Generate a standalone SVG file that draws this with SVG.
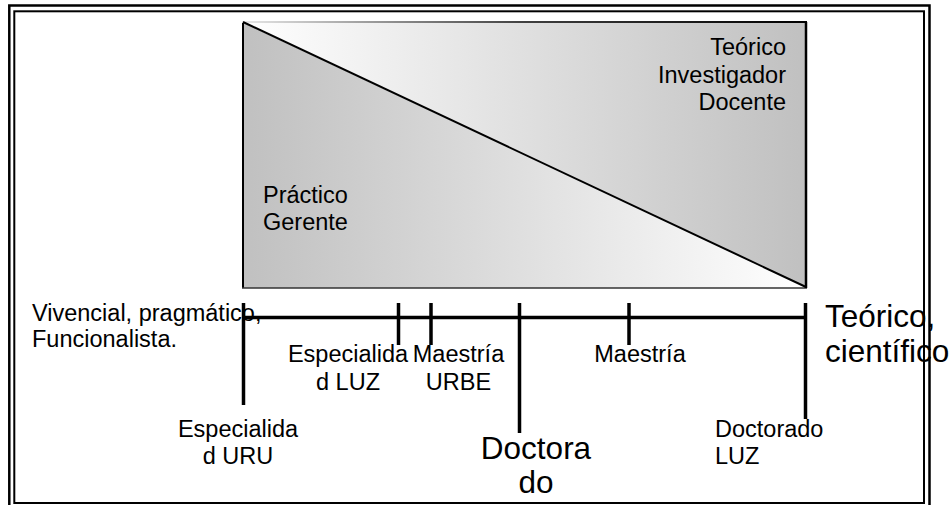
<svg xmlns="http://www.w3.org/2000/svg" width="950" height="505" viewBox="0 0 950 505">
<defs>
<linearGradient id="gLow" gradientUnits="userSpaceOnUse" x1="242" y1="0" x2="807" y2="0">
<stop offset="0" stop-color="#c0c0c0"/><stop offset="1" stop-color="#ffffff"/>
</linearGradient>
<linearGradient id="gUp" gradientUnits="userSpaceOnUse" x1="242" y1="0" x2="807" y2="0">
<stop offset="0" stop-color="#ffffff"/><stop offset="1" stop-color="#c0c0c0"/>
</linearGradient>
<linearGradient id="gTop" gradientUnits="userSpaceOnUse" x1="242" y1="0" x2="807" y2="0">
<stop offset="0" stop-color="#e8e8e8"/><stop offset="0.5" stop-color="#404040"/><stop offset="1" stop-color="#000000"/>
</linearGradient>
</defs>
<style>
text{font-family:"Liberation Sans",Arial,sans-serif;fill:#000;}
.m{font-size:23.5px;}
.b{font-size:31.5px;}
.tl{stroke:#000;stroke-width:3.5;fill:none;}
.bd{stroke:#000;fill:none;}
</style>
<rect width="950" height="505" fill="#ffffff"/>
<g id="spectrum">
<polygon points="242,22 242,288 807,288" fill="url(#gLow)"/>
<polygon points="242,22 807,22 807,288" fill="url(#gUp)"/>
<line x1="243" y1="22" x2="243" y2="288" stroke="#000" stroke-width="2"/>
<line x1="242" y1="288" x2="807" y2="288" stroke="#333" stroke-width="1.5"/>
<line x1="806" y1="22" x2="806" y2="288" stroke="#000" stroke-width="2.5"/>
<line x1="242" y1="22" x2="807" y2="22" stroke="url(#gTop)" stroke-width="2"/>
<line x1="243" y1="22" x2="806" y2="287" stroke="#000" stroke-width="2"/>
</g>
<g id="label-teorico">
<text class="m" x="786" y="55" text-anchor="end">Teórico</text>
<text class="m" x="786" y="83" text-anchor="end">Investigador</text>
<text class="m" x="786" y="110" text-anchor="end">Docente</text>
</g>
<g id="label-practico">
<text class="m" x="263" y="202.5">Práctico</text>
<text class="m" x="263" y="229.5">Gerente</text>
</g>
<g id="label-vivencial">
<text class="m" x="32" y="321">Vivencial, pragmático,</text>
<text class="m" x="32" y="347">Funcionalista.</text>
</g>
<g id="label-esp-uru">
<text class="m" x="238" y="436.5" text-anchor="middle">Especialida</text>
<text class="m" x="238" y="464" text-anchor="middle">d URU</text>
</g>
<g id="label-esp-luz">
<text class="m" x="348" y="362" text-anchor="middle">Especialida</text>
<text class="m" x="348" y="390" text-anchor="middle">d LUZ</text>
</g>
<g id="label-maestria-urbe">
<text class="m" x="458.5" y="362" text-anchor="middle">Maestría</text>
<text class="m" x="458.5" y="390" text-anchor="middle">URBE</text>
</g>
<g id="label-maestria">
<text class="m" x="640" y="362" text-anchor="middle">Maestría</text>
</g>
<g id="label-doctorado">
<text class="b" x="536" y="458.5" text-anchor="middle">Doctora</text>
<text class="b" x="536" y="493" text-anchor="middle">do</text>
</g>
<g id="label-doctorado-luz">
<text class="m" x="715" y="436.5">Doctorado</text>
<text class="m" x="715" y="464">LUZ</text>
</g>
<g id="label-teorico-cientifico">
<text class="b" x="825" y="326.5">Teórico,</text>
<text class="b" x="825" y="361.5">científico</text>
</g>
<g id="connectors">
<line class="tl" x1="242" y1="317.5" x2="807" y2="317.5"/>
<line class="tl" x1="243.5" y1="303" x2="243.5" y2="405"/>
<line class="tl" x1="398.5" y1="303" x2="398.5" y2="345"/>
<line class="tl" x1="431" y1="303" x2="431" y2="345"/>
<line class="tl" x1="519.5" y1="303" x2="519.5" y2="433"/>
<line class="tl" x1="629" y1="303" x2="629" y2="345"/>
<line class="tl" x1="805.5" y1="303" x2="805.5" y2="419"/>
</g>
<g id="border">
<polyline class="bd" stroke-width="2.5" points="9.3,505 9.3,5.5 929.5,5.5 929.5,505"/>
<rect class="bd" stroke-width="2" x="14.3" y="11.3" width="909.7" height="491.7"/>
</g>
</svg>
